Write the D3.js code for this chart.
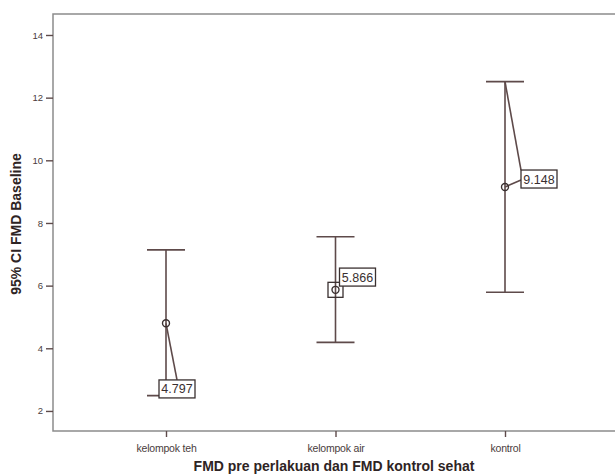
<!DOCTYPE html>
<html lang="en">
<head>
<meta charset="UTF-8">
<script src="https://d3js.org/d3.v7.min.js"></script>
<style>
  body { margin: 0; background: #fff; }
  svg { display: block; font-family: "Liberation Sans", Arial, Helvetica, sans-serif; }
  .frame { stroke: #8c8c8c; stroke-width: 1.5px; fill: none; }
  .bar { stroke: #5e4a4a; stroke-width: 1.6px; fill: none; }
  .lbl rect { fill: #fff; stroke: #3a3030; stroke-width: 1.3px; }
  .lbl text { font-size: 12.5px; fill: #3a3030; }
</style>
</head>
<body>
<svg id="chart" width="615" height="475"></svg>
<script>
// data
const groups = ["kelompok teh", "kelompok air", "kontrol"];
const means = [4.797, 5.866, 9.148];
const lower = [2.49, 4.19, 5.79];
const upper = [7.14, 7.56, 12.51];
const yTicks = [2, 4, 6, 8, 10, 12, 14];

// label box placement: x offset from bar (px), top edge in value units
const labelDx = [-7, 4, 16];
const labelTop = [2.99, 6.56, 9.69];

const svg = d3.select("#chart");
const mLeft = 53, mRight = 617, mTop = 14, mBottom = 431;

const x = d3.scalePoint().domain(groups).range([166, 505]);
const y = d3.scaleLinear().domain([1.36, 14.67]).range([mBottom, mTop]);

// frame
svg.append("path").attr("class", "frame")
   .attr("d", `M${mRight},${mTop}H${mLeft}V${mBottom}H${mRight}`);

// y axis
const yAxis = svg.append("g").attr("transform", `translate(${mLeft},0)`)
   .call(d3.axisLeft(y).tickValues(yTicks).tickSize(7).tickPadding(3).tickFormat(d3.format("d")));
yAxis.select(".domain").remove();
yAxis.selectAll("line").attr("stroke", "#5e4a4a").attr("stroke-width", 1.4);
yAxis.selectAll("text").attr("fill", "#4a3c3c").style("font-size", "9.5px").style("font-family", "inherit");

// x axis
const xAxis = svg.append("g").attr("transform", `translate(0,${mBottom})`)
   .call(d3.axisBottom(x).tickSize(6).tickPadding(8));
xAxis.select(".domain").remove();
xAxis.selectAll("line").attr("stroke", "#5e4a4a").attr("stroke-width", 1.4);
xAxis.selectAll("text").attr("fill", "#4a3c3c").style("font-size", "10.5px").style("font-family", "inherit")
     .style("letter-spacing", "-0.2px");

// axis titles
svg.append("text").attr("x", 334).attr("y", 471).attr("text-anchor", "middle")
   .style("font-size", "14px").style("font-weight", "bold").attr("fill", "#2e2424")
   .text("FMD pre perlakuan dan FMD kontrol sehat");
svg.append("text").attr("transform", "translate(21,224) rotate(-90)").attr("text-anchor", "middle")
   .style("font-size", "14px").style("font-weight", "bold").attr("fill", "#2e2424")
   .text("95% CI FMD Baseline");

const capW = 19, bw = 36, bh = 18;
groups.forEach((g, i) => {
  const cx = x(g);
  const gEl = svg.append("g");
  gEl.append("line").attr("class", "bar").attr("x1", cx).attr("x2", cx).attr("y1", y(upper[i])).attr("y2", y(lower[i]));
  gEl.append("line").attr("class", "bar").attr("x1", cx - capW).attr("x2", cx + capW).attr("y1", y(upper[i])).attr("y2", y(upper[i]));
  gEl.append("line").attr("class", "bar").attr("x1", cx - capW).attr("x2", cx + capW).attr("y1", y(lower[i])).attr("y2", y(lower[i]));

  const bx = cx + labelDx[i], by = y(labelTop[i]);
  const my = y(means[i]);
  // leader lines
  if (i === 0) {
    gEl.append("line").attr("class", "bar").attr("x1", cx).attr("y1", my).attr("x2", bx + 18).attr("y2", by);
  } else if (i === 2) {
    gEl.append("line").attr("class", "bar").attr("x1", cx).attr("y1", y(upper[i])).attr("x2", bx).attr("y2", by);
    gEl.append("line").attr("class", "bar").attr("x1", cx).attr("y1", my).attr("x2", bx).attr("y2", by + 10);
  } else {
    gEl.append("rect").attr("x", cx - 7.5).attr("y", my - 7.5).attr("width", 15).attr("height", 15)
       .attr("fill", "none").attr("stroke", "#3a3030").attr("stroke-width", 1.3);
  }
  gEl.append("circle").attr("cx", cx).attr("cy", my).attr("r", 3.5)
     .attr("fill", "none").attr("stroke", "#3a3030").attr("stroke-width", 1.4);

  const lab = gEl.append("g").attr("class", "lbl").attr("transform", `translate(${bx},${by})`);
  lab.append("rect").attr("width", bw).attr("height", bh);
  lab.append("text").attr("x", bw / 2).attr("y", 13.5).attr("text-anchor", "middle").text(d3.format(".3f")(means[i]));
});
</script>
</body>
</html>
